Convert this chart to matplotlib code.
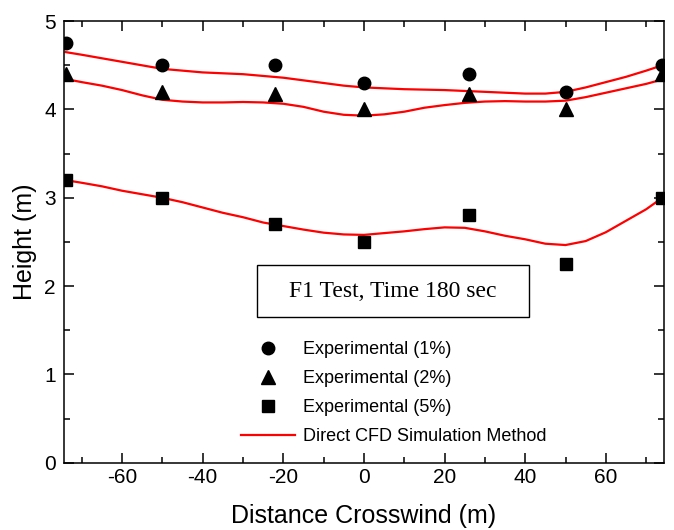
import matplotlib
matplotlib.use("Agg")
import matplotlib.pyplot as plt
from matplotlib.lines import Line2D
from matplotlib.patches import Rectangle
from matplotlib.ticker import MultipleLocator

# Measured heights of the gas-cloud concentration contours
exp_x = [-74, -50, -22, 0, 26, 50, 74]
exp_1pct = [4.75, 4.50, 4.50, 4.30, 4.40, 4.20, 4.50]
exp_2pct = [4.40, 4.20, 4.17, 4.00, 4.17, 4.00, 4.40]
exp_5pct = [3.20, 3.00, 2.70, 2.50, 2.80, 2.25, 3.00]

# Direct CFD simulation profiles
cfd_x = [-74, -70, -65, -60, -55, -50, -45, -40, -35, -30, -25, -20, -15, -10, -5,
         0, 5, 10, 15, 20, 25, 30, 35, 40, 45, 50, 55, 60, 65, 70, 74]
cfd_1pct = [4.65, 4.62, 4.58, 4.54, 4.50, 4.46, 4.44, 4.42, 4.41, 4.40, 4.38, 4.36, 4.33,
            4.30, 4.27, 4.25, 4.24, 4.23, 4.225, 4.22, 4.21, 4.20, 4.19, 4.18, 4.18,
            4.20, 4.25, 4.31, 4.37, 4.44, 4.50]
cfd_2pct = [4.345, 4.31, 4.27, 4.22, 4.16, 4.11, 4.09, 4.08, 4.08, 4.085, 4.08, 4.065,
            4.03, 3.975, 3.94, 3.93, 3.945, 3.975, 4.02, 4.05, 4.075, 4.09, 4.095, 4.09,
            4.09, 4.10, 4.14, 4.19, 4.24, 4.29, 4.34]
cfd_5pct = [3.20, 3.17, 3.13, 3.08, 3.04, 3.00, 2.95, 2.89, 2.83, 2.78, 2.72, 2.68, 2.64,
            2.605, 2.585, 2.58, 2.60, 2.62, 2.645, 2.665, 2.66, 2.62, 2.57, 2.53, 2.48,
            2.465, 2.51, 2.61, 2.74, 2.87, 3.00]

labels = ["Experimental (1%)", "Experimental (2%)", "Experimental (5%)",
          "Direct CFD Simulation Method"]
title_text = "F1 Test, Time 180 sec"

plt.rcParams["font.family"] = ["Liberation Sans", "DejaVu Sans"]
plt.rcParams["axes.unicode_minus"] = False

fig = plt.figure(figsize=(6.74, 5.30), dpi=100)
ax = fig.add_axes([0.095, 0.127, 0.890, 0.833])

for yv in (cfd_1pct, cfd_2pct, cfd_5pct):
    ax.plot(cfd_x, yv, color="red", lw=1.6, zorder=2)

ax.plot(exp_x, exp_1pct, "o", color="black", ms=9, zorder=3)
ax.plot(exp_x, exp_2pct, "^", color="black", ms=10, zorder=3)
ax.plot(exp_x, exp_5pct, "s", color="black", ms=8, zorder=3)

ax.set_xlim(-74.4, 74.4)
ax.set_ylim(0, 5)
ax.xaxis.set_major_locator(MultipleLocator(20))
ax.xaxis.set_minor_locator(MultipleLocator(10))
ax.yaxis.set_major_locator(MultipleLocator(1))
ax.yaxis.set_minor_locator(MultipleLocator(0.5))
ax.tick_params(which="both", direction="in", top=True, right=True, width=1.1,
               labelsize=15)
ax.tick_params(which="major", length=7)
ax.tick_params(which="minor", length=4)
ax.tick_params(axis="x", pad=4)
ax.tick_params(axis="y", pad=6)
for sp in ax.spines.values():
    sp.set_linewidth(1.1)

ax.set_xlabel("Distance Crosswind (m)", fontsize=18, labelpad=12)
ax.set_ylabel("Height (m)", fontsize=18, labelpad=5)

# Title box inside the plot
ax.add_patch(Rectangle((0.3217, 0.330), 0.4533, 0.1177, transform=ax.transAxes,
                       fill=False, edgecolor="black", lw=1.0, zorder=4))
ax.text(0.5483, 0.3887, title_text, transform=ax.transAxes, ha="center", va="center",
        fontsize=17, family=["Liberation Serif", "DejaVu Serif"], zorder=5)

handles = [
    Line2D([], [], ls="none", marker="o", color="black", ms=9),
    Line2D([], [], ls="none", marker="^", color="black", ms=10),
    Line2D([], [], ls="none", marker="s", color="black", ms=8),
    Line2D([], [], color="red", lw=1.6),
]
ax.legend(handles, labels, loc="upper left", bbox_to_anchor=(0.295, 0.2756),
          frameon=False, fontsize=13, handlelength=3.0, handletextpad=0.45,
          labelspacing=0.67, borderaxespad=0, borderpad=0)

fig.savefig("out.png", dpi=100)
